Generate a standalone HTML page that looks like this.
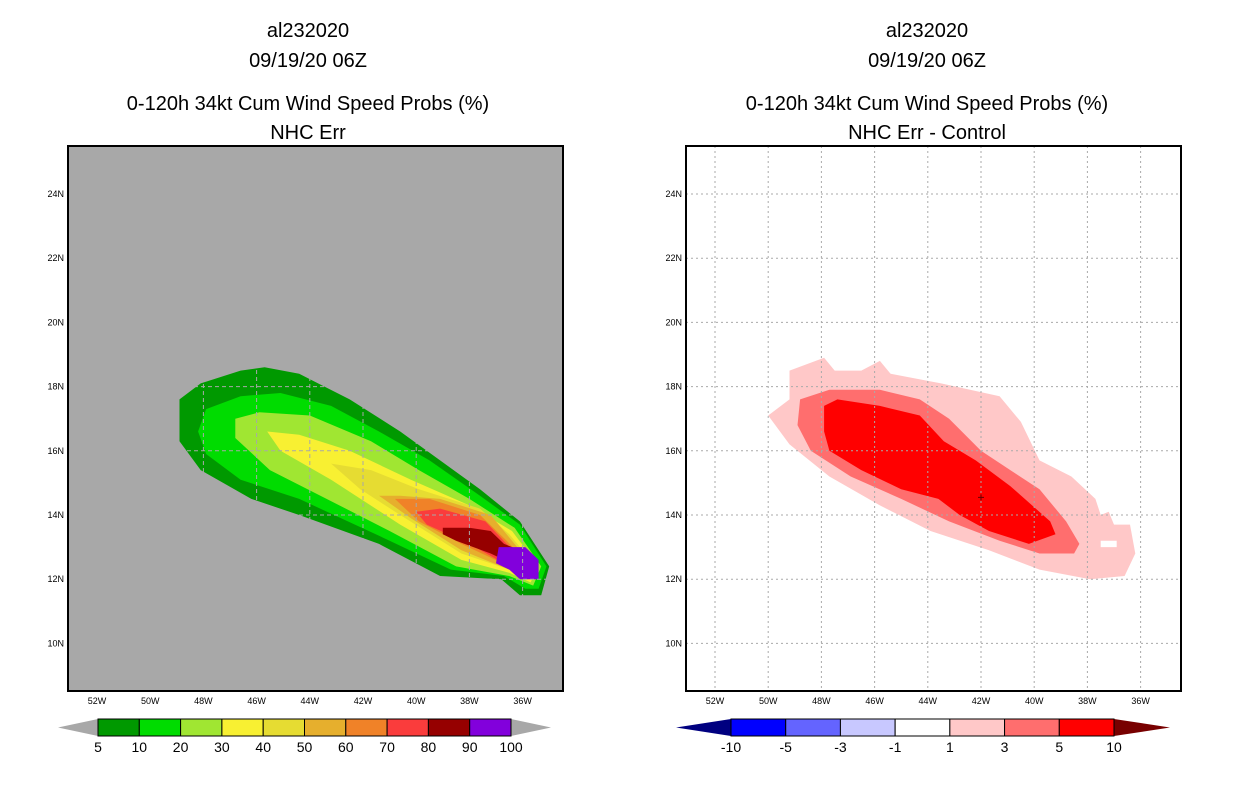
<!DOCTYPE html>
<html><head><meta charset="utf-8"><style>
body{margin:0;background:#fff;width:1236px;height:800px;overflow:hidden}
svg{display:block;font-family:"Liberation Sans",sans-serif}
</style></head><body>
<svg id="s" width="1236" height="800">
<g font-size="20" text-anchor="middle" fill="#000">
<text x="308" y="37">al232020</text>
<text x="308" y="67">09/19/20 06Z</text>
<text x="308" y="110">0-120h 34kt Cum Wind Speed Probs (%)</text>
<text x="308" y="139">NHC Err</text>
<text x="927" y="37">al232020</text>
<text x="927" y="67">09/19/20 06Z</text>
<text x="927" y="110">0-120h 34kt Cum Wind Speed Probs (%)</text>
<text x="927" y="139">NHC Err - Control</text>
</g>
</svg>
<script>
const lonTicks=[52,50,48,46,44,42,40,38,36];
const latTicks=[24,22,20,18,16,14,12,10];
const leftLevels=["5","10","20","30","40","50","60","70","80","90","100"];
const leftColors=["#009900","#00dc00","#a0e632","#f8f032","#e6dc32","#e6af2d","#f08228","#fa3c3c","#960000","#8200dc"];
const rightLevels=["-10","-5","-3","-1","1","3","5","10"];
const rightColors=["#0000ff","#6464ff","#c8c8ff","#ffffff","#ffc8c8","#ff6e6e","#ff0000"];
const c5=[[48.9,17.6],[48.1,18.1],[46.6,18.5],[45.7,18.6],[44.4,18.4],[42.5,17.6],[40.6,16.6],[39.1,15.7],[37.6,14.8],[36.1,13.8],[35.0,12.4],[35.3,11.5],[36.1,11.5],[36.8,12.0],[39.1,12.1],[41.4,13.1],[44.4,14.0],[46.2,14.5],[48.1,15.4],[48.9,16.3]];
const c10=[[47.9,17.3],[46.6,17.7],[45.1,17.8],[43.2,17.4],[41.4,16.6],[39.5,15.7],[37.6,14.6],[36.1,13.7],[35.1,12.4],[35.4,11.7],[35.9,11.7],[36.7,12.1],[38.7,12.3],[41.0,13.2],[44.4,14.5],[46.6,15.1],[47.9,15.9],[48.2,16.6]];
const c20=[[46.8,17.0],[45.9,17.2],[44.0,17.1],[41.7,16.3],[39.9,15.4],[38.0,14.5],[36.3,13.6],[35.3,12.4],[35.6,11.8],[36.5,12.1],[38.5,12.4],[41.0,13.5],[43.6,14.6],[45.5,15.4],[46.8,16.4]];
const c30=[[45.6,16.6],[44.4,16.5],[42.5,16.0],[40.2,15.1],[38.0,14.3],[36.4,13.5],[35.4,12.4],[35.7,11.9],[36.5,12.2],[38.3,12.6],[40.6,13.7],[43.2,15.1],[45.1,16.0]];
const c40=[[43.2,15.6],[41.7,15.4],[39.9,14.8],[37.6,14.2],[36.5,13.4],[35.5,12.4],[35.8,12.0],[36.5,12.3],[38.3,12.8],[40.6,14.0],[42.1,14.8]];
const c50=[[41.4,14.6],[40.6,14.6],[39.1,14.5],[37.2,14.0],[36.5,13.3],[35.6,12.4],[35.8,12.1],[36.5,12.3],[38.3,12.9],[40.2,13.9]];
const c60=[[40.8,14.5],[39.5,14.5],[37.6,14.0],[36.6,13.2],[35.7,12.4],[35.9,12.1],[36.5,12.4],[38.3,13.1],[39.9,13.8]];
const c70=[[40.0,14.1],[39.1,14.2],[37.4,13.8],[36.6,13.1],[35.7,12.4],[35.9,12.2],[36.5,12.4],[38.0,13.1],[39.6,13.7]];
const c80=[[39.0,13.6],[38.0,13.6],[37.2,13.5],[36.7,13.1],[36.1,12.9],[36.7,12.6],[37.2,12.8],[38.5,13.2],[39.0,13.4]];
const c90=[[36.9,13.0],[35.9,13.0],[35.4,12.6],[35.4,12.0],[36.1,12.0],[36.5,12.3],[37.0,12.5]];
const d1=[[50.0,17.1],[49.2,17.6],[49.2,18.5],[47.9,18.9],[47.5,18.5],[46.5,18.5],[45.8,18.8],[45.4,18.4],[43.5,18.1],[41.3,17.7],[40.5,16.9],[39.8,15.7],[38.6,15.2],[37.7,14.5],[37.5,14.0],[37.2,14.1],[37.0,13.7],[36.4,13.7],[36.2,12.8],[36.6,12.1],[37.9,12.0],[39.8,12.3],[41.7,12.9],[43.9,13.5],[45.8,14.3],[47.7,15.2],[49.2,16.2]];
const dHole=[[37.5,13.2],[36.9,13.2],[36.9,13.0],[37.5,13.0]];
const d3=[[48.8,17.6],[47.7,17.9],[45.8,17.9],[44.3,17.6],[43.2,17.0],[42.0,16.0],[40.9,15.4],[39.8,14.8],[38.8,13.8],[38.3,13.1],[38.5,12.8],[39.8,12.8],[41.3,13.2],[43.2,13.8],[45.0,14.5],[46.9,15.2],[48.4,16.0],[48.9,16.8]];
const d5=[[47.9,17.4],[47.4,17.6],[45.8,17.4],[44.3,17.1],[43.4,16.3],[42.2,15.7],[40.9,14.9],[39.4,13.8],[39.2,13.4],[40.2,13.1],[41.7,13.5],[42.8,14.0],[43.6,14.5],[45.0,14.8],[46.5,15.4],[47.7,16.0],[47.9,16.6]];

const NS="http://www.w3.org/2000/svg";
const svg=document.getElementById('s');
function mk(tag,attrs,parent){const e=document.createElementNS(NS,tag);for(const k in attrs)e.setAttribute(k,attrs[k]);(parent||svg).appendChild(e);return e;}
function panel(x0,name,bg,gridColor,dash,fills){
  const X=w=>x0+29+(52-w)*26.6;
  const Y=n=>194+(24-n)*32.1;
  const g=mk('g',{});
  
  
  const r=mk('rect',{x:x0,y:146,width:495,height:545,fill:bg},g);
  
  
  fills.forEach(f=>{
    const p=mk('polygon',{points:f[0].map(q=>X(q[0]).toFixed(1)+','+Y(q[1]).toFixed(1)).join(' '),fill:f[1]},g);
    
    
  });
  lonTicks.forEach(w=>{
    const l=mk('line',{x1:X(w),x2:X(w),y1:146,y2:691,stroke:gridColor,'stroke-dasharray':dash,'stroke-width':1},g);
    
    
    const t=mk('text',{x:X(w),y:704,'font-size':9,'text-anchor':'middle'},g);
    t.textContent=w+'W';
    
    
  });
  latTicks.forEach(n=>{
    const l=mk('line',{x1:x0,x2:x0+495,y1:Y(n),y2:Y(n),stroke:gridColor,'stroke-dasharray':dash,'stroke-width':1},g);
    
    
    const t=mk('text',{x:x0-4,y:Y(n)+3,'font-size':9,'text-anchor':'end'},g);
    t.textContent=n+'N';
    
    
  });
  const b=mk('rect',{x:x0,y:146,width:495,height:545,fill:'none',stroke:'#000','stroke-width':2},g);
  
  
  return {X,Y,g};
}
const L=panel(68,'left-map','#a8a8a8','#a8a8a8','4,3',[[c5,leftColors[0],5],[c10,leftColors[1],10],[c20,leftColors[2],20],[c30,leftColors[3],30],[c40,leftColors[4],40],[c50,leftColors[5],50],[c60,leftColors[6],60],[c70,leftColors[7],70],[c80,leftColors[8],80],[c90,leftColors[9],90]]);
const R=panel(686,'right-map','#ffffff','#aaaaaa','2,3',[[d1,rightColors[4],1],[dHole,'#ffffff','hole'],[d3,rightColors[5],3],[d5,rightColors[6],5]]);
const cx=R.X(42),cy=R.Y(14.55);
const cr=mk('path',{d:`M${cx-3},${cy}h6M${cx},${cy-3}v6`,stroke:'#600',"stroke-width":1});



function colorbar(x0,x1,tipL,tipR,colors,labels,tipLc,tipRc,name){
  const g=mk('g',{});
  
  
  const y0=719,y1=736,ym=(y0+y1)/2;
  const w=(x1-x0)/colors.length;
  const a=mk('polygon',{points:`${tipL},${ym} ${x0},${y0} ${x0},${y1}`,fill:tipLc},g);
  
  
  const c=mk('polygon',{points:`${tipR},${ym} ${x1},${y0} ${x1},${y1}`,fill:tipRc},g);
  
  
  colors.forEach((col,i)=>{
    const r=mk('rect',{x:x0+i*w,y:y0,width:w,height:y1-y0,fill:col,stroke:'#000','stroke-width':1},g);
    
    
  });
  labels.forEach((lb,i)=>{
    const t=mk('text',{x:x0+i*w,y:752,'font-size':14,'text-anchor':'middle'},g);
    t.textContent=lb;
    
    
  });
}
colorbar(98,511,58,551,leftColors,leftLevels,'#a8a8a8','#a8a8a8','left-colorbar');
colorbar(731,1114,676,1170,rightColors,rightLevels,'#000080','#780000','right-colorbar');
</script>
</body></html>
